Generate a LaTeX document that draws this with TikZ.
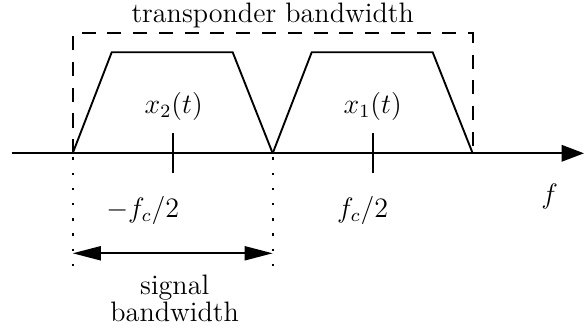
\RequirePackage{fix-cm}
\documentclass[tikz,border=0pt]{standalone}
\usepackage{amsmath}
\usetikzlibrary{arrows.meta,calc,positioning}

\begin{document}
\begin{tikzpicture}[x=1.5cm,y=1.5cm,line width=0.8pt,
    font=\fontsize{12}{11.5}\selectfont,
    axistip/.style={-{Triangle[length=9.5pt,width=7pt]}},
    bandtip/.style={{Triangle[length=12pt,width=6pt]}-{Triangle[length=12pt,width=6pt]}},
    boxdash/.style={dash pattern=on 6pt off 5pt},
    dotline/.style={dash pattern=on 1pt off 5.5pt}]
        \useasboundingbox (-0.727,-1.777) rectangle (5.113,1.533);
        % feet of the two spectra
        \coordinate (a) at (0,0);
        \coordinate (b) at (2,0);
        \coordinate (c) at (4,0);
        % frequency axis
        \draw[axistip] (-0.61,0) -- (5.113,0);
        \node (f) at (4.77,-0.43) {$f$};
        % the two spectra
        \foreach \s in {0,2} {
            \draw (\s,0) -- ++(0.39,1.01) -- ++(1.21,0) -- (\s+2,0);
          }
        \node (x2) at (1.01,0.47) {$x_2(t)$};
        \node (x1) at (3.0,0.47) {$x_1(t)$};
        % Label the transponder bandwidth
        \draw[boxdash] (a) -- (0,1.2) -- (4,1.2) -- (c);
        \node[anchor=base] (tb) at (2,1.303) {transponder bandwidth};
        % carrier ticks
        \foreach \x in {1,3} {
            \draw (\x,0.2) -- (\x,-0.2);
          }
        \node (mfc) at (0.70,-0.57) {$-f_c/2$};
        \node (fc) at (2.90,-0.57) {$f_c/2$};
        % Label the signal bandwidth
        \coordinate (sl) at (0,-1);
        \coordinate (sr) at (2,-1);
        \foreach \x in {0,2} {
            \draw[dotline] (\x,-0.04) -- (\x,-1.25);
          }
        \draw[bandtip] (sl) -- (sr);
        \node[below, align=center, inner sep=0pt] (sb) at (1.02,-1.21) {signal\\bandwidth};
      \end{tikzpicture}
\end{document}
